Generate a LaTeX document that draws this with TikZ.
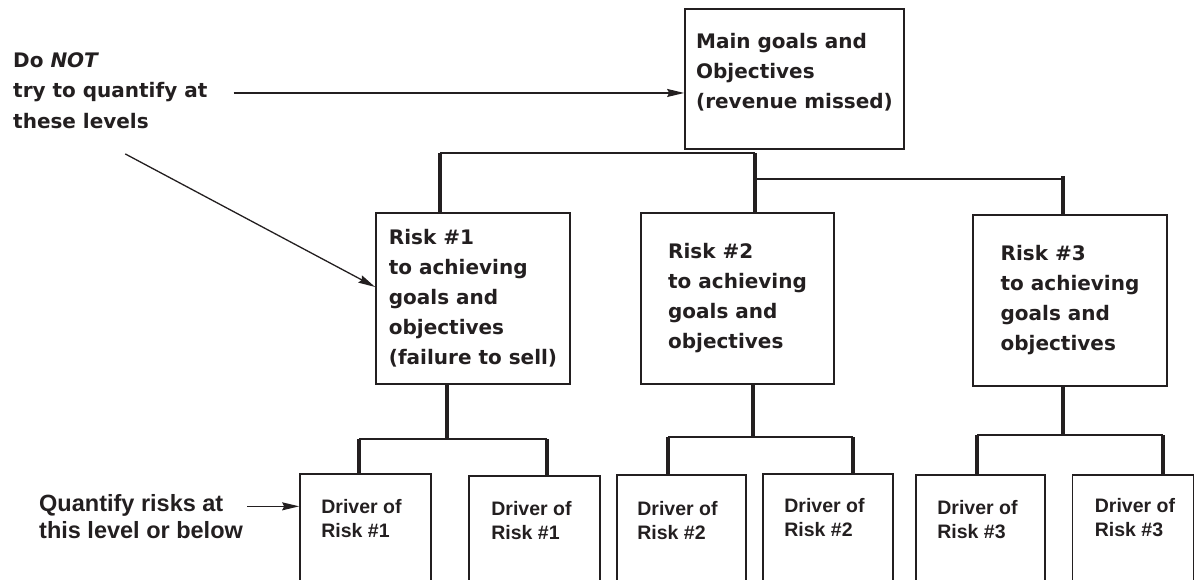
\documentclass[tikz,border=0pt]{standalone}
\usepackage{fontspec}
\usepackage{xcolor}
\usepackage{tikz}
\usetikzlibrary{arrows.meta,positioning,calc}
\newfontfamily\boxfont{DejaVu Sans}
\newfontfamily\drvfont{Liberation Sans}
\definecolor{ink}{HTML}{231F20}

\tikzset{
  box/.style={draw, line width=1.7pt, inner sep=0pt, align=left,
    font=\boxfont\bfseries\fontsize{20}{30}\selectfont},
  drv/.style={draw, line width=1.7pt, inner sep=0pt, anchor=north, minimum height=130pt},
  drvtext/.style={inner sep=0pt, anchor=north west, align=left,
    font=\drvfont\bfseries\fontsize{19.5}{24}\selectfont},
  note/.style={inner sep=0pt, anchor=north west, align=left,
    font=\boxfont\bfseries\fontsize{20}{30.5}\selectfont},
  qnote/.style={inner sep=0pt, anchor=north west, align=left,
    font=\drvfont\bfseries\fontsize{23.5}{27}\selectfont},
  stem/.style={line width=4pt},
  bar/.style={line width=2.6pt},
  link/.style={line width=2pt},
  arr/.style={-{Stealth[length=17pt,width=8pt,inset=2pt]}, line width=1.3pt},
}

\begin{document}
\begin{tikzpicture}[x=1pt, y=-1pt, color=ink]
	\useasboundingbox (0,0) rectangle (1195,579);
	\clip (0,0) rectangle (1195,579);
	% top and middle level
	\node[box, minimum width=219pt, minimum height=140pt, text depth=16pt] (main) at (794.5,79) {Main goals and\\Objectives\\(revenue missed)};
	\node[box, minimum width=194pt, minimum height=171pt] (risk1) at (473,298.5) {Risk \#1\\to achieving\\goals and\\objectives\\(failure to sell)};
	\node[box, minimum width=193pt, minimum height=171pt] (risk2) at (737.5,298.5) {Risk \#2\\to achieving\\goals and\\objectives};
	\node[box, minimum width=194pt, minimum height=171pt] (risk3) at (1070,300.5) {Risk \#3\\to achieving\\goals and\\objectives};
	% drivers
	\node[drv, minimum width=131pt] (d1a) at (365.5,473) {};
	\node[drv, minimum width=131pt] (d1b) at (534.5,475) {};
	\node[drv, minimum width=129pt] (d2a) at (681.5,474) {};
	\node[drv, minimum width=130pt] (d2b) at (828,473) {};
	\node[drv, minimum width=129pt] (d3a) at (980.5,474) {};
	\node[drv, minimum width=121pt] (d3b) at (1133,474) {};
	\node[drvtext] (t1a) at ([shift={(22pt,-26pt)}]d1a.north west) {Driver of\\Risk \#1};
	\node[drvtext] (t1b) at ([shift={(23pt,-26pt)}]d1b.north west) {Driver of\\Risk \#1};
	\node[drvtext] (t2a) at ([shift={(21pt,-27pt)}]d2a.north west) {Driver of\\Risk \#2};
	\node[drvtext] (t2b) at ([shift={(22pt,-25pt)}]d2b.north west) {Driver of\\Risk \#2};
	\node[drvtext] (t3a) at ([shift={(22pt,-26pt)}]d3a.north west) {Driver of\\Risk \#3};
	\node[drvtext] (t3b) at ([shift={(23pt,-24pt)}]d3b.north west) {Driver of\\Risk \#3};
	% notes on the left
	\node[note] (donot) at (13,52.4) {Do \textit{NOT}\\try to quantify at\\these levels};
	\node[qnote] (quant) at (39,494) {Quantify risks at\\this level or below};
	% main to risks
	\coordinate (r1top) at ([xshift=-33pt]risk1.north);
	\coordinate (r2top) at ([xshift=17.5pt]risk2.north);
	\coordinate (r3top) at ([xshift=-7pt]risk3.north);
	\coordinate (mbar) at ([yshift=-3pt]main.south);
	\coordinate (r3bar) at ([yshift=35pt]r3top);
	\draw[stem] (r1top) -- (r1top |- mbar);
	\draw[stem] (r2top) -- (r2top |- mbar);
	\draw[bar] (r1top |- mbar) -- (r2top |- mbar);
	\draw[link] (r2top |- r3bar) -- (r3bar);
	\draw[stem] ([yshift=3pt]r3bar) -- (r3top);
	% risk 1 to drivers
	\coordinate (s1) at ([xshift=-26pt]risk1.south);
	\coordinate (b1) at ([yshift=-54pt]s1);
	\coordinate (l1a) at ([xshift=-6.5pt]d1a.north);
	\coordinate (l1b) at ([xshift=12.5pt]d1b.north);
	\draw[stem] (s1) -- (b1);
	\draw[stem] (l1a) -- (l1a |- b1);
	\draw[stem] (l1b) -- (l1b |- b1);
	\draw[bar] (l1a |- b1) -- (l1b |- b1);
	% risk 2 to drivers
	\coordinate (s2) at ([xshift=15.5pt]risk2.south);
	\coordinate (b2) at ([yshift=-52pt]s2);
	\coordinate (l2a) at ([xshift=-13.5pt]d2a.north);
	\coordinate (l2b) at ([xshift=25pt]d2b.north);
	\draw[stem] (s2) -- (b2);
	\draw[stem] (l2a) -- (l2a |- b2);
	\draw[stem] (l2b) -- (l2b |- b2);
	\draw[bar] (l2a |- b2) -- (l2b |- b2);
	% risk 3 to drivers
	\coordinate (s3) at ([xshift=-7pt]risk3.south);
	\coordinate (b3) at ([yshift=-48pt]s3);
	\coordinate (l3a) at ([xshift=-3.5pt]d3a.north);
	\coordinate (l3b) at ([xshift=30pt]d3b.north);
	\draw[stem] (s3) -- (b3);
	\draw[stem] (l3a) -- (l3a |- b3);
	\draw[stem] (l3b) -- (l3b |- b3);
	\draw[bar] (l3a |- b3) -- (l3b |- b3);
	% arrows from the notes
	\coordinate (da) at ([shift={(26pt,-2.3pt)}]donot.east);
	\coordinate (db) at ([shift={(15pt,-25pt)}]donot.south);
	\coordinate (qa) at ([shift={(4pt,10pt)}]quant.east);
	\draw[arr] (da) -- (da -| main.west);
	\draw[arr] (db) -- ([yshift=11.5pt]risk1.west);
	\draw[arr] (qa) -- (qa -| d1a.west);
\end{tikzpicture}
\end{document}
